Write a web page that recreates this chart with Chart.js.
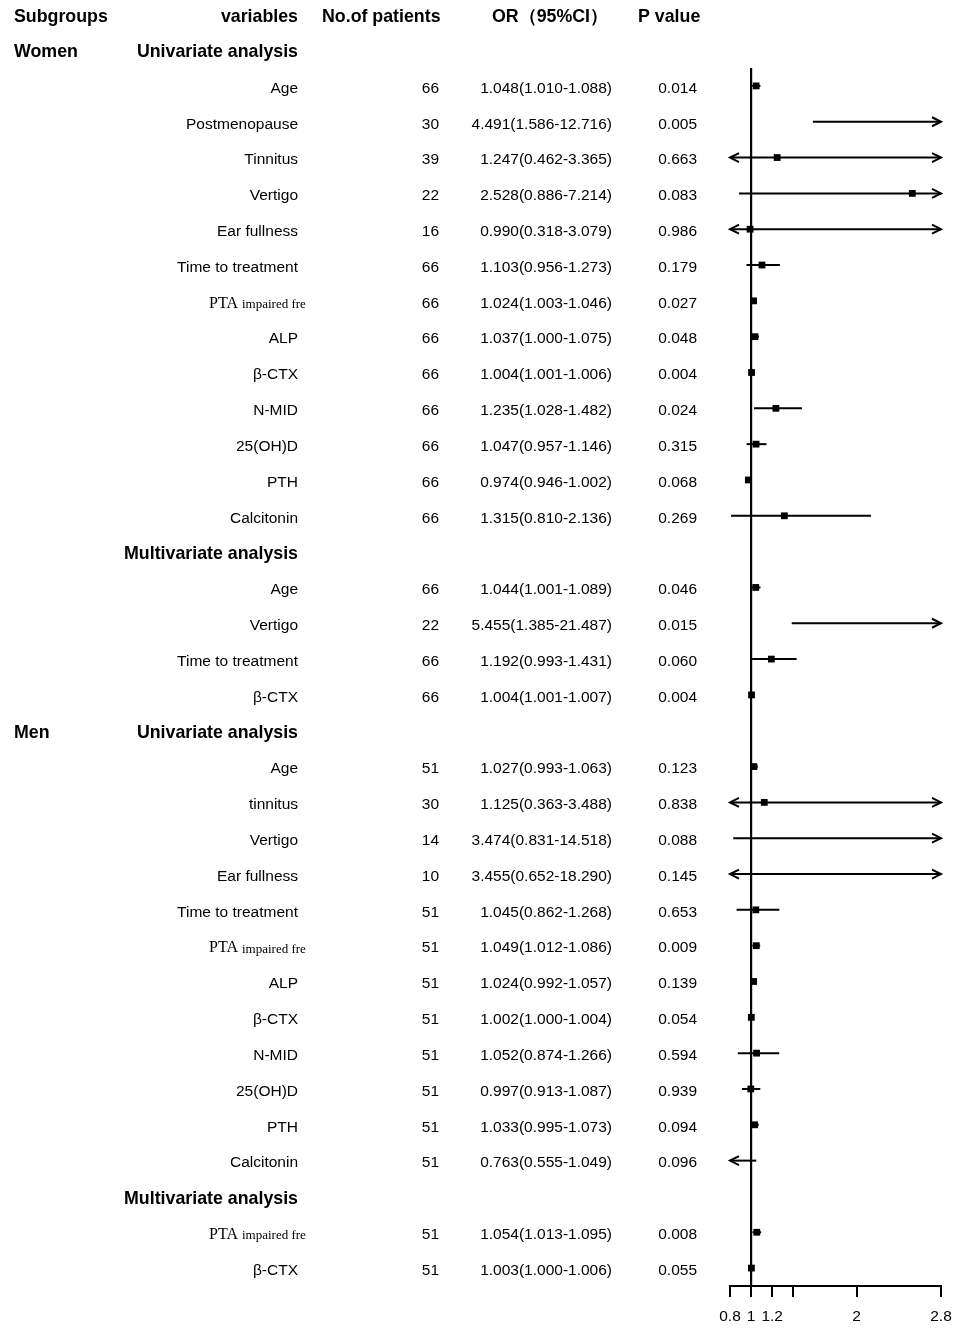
<!DOCTYPE html>
<html>
<head>
<meta charset="utf-8">
<script src="https://cdn.jsdelivr.net/npm/chart.js@4.4.0/dist/chart.umd.min.js"></script>
<style>
  html, body { margin: 0; padding: 0; background: #fff; }
  #wrap { position: relative; width: 968px; height: 1339px; }
</style>
</head>
<body>
<div id="wrap"><canvas id="forest"></canvas></div>
<script>
// column headers of the table
const headers = ['Subgroups', 'variables', 'No.of patients', 'OR（95%CI）', 'P value'];
const subgroups = ['Women', 'Men'];
const analyses = ['Univariate analysis', 'Multivariate analysis'];
// how many variables in each analysis block, per subgroup
const blockSizes = [[13, 4], [12, 2]];

const variables = [
  'Age', 'Postmenopause', 'Tinnitus', 'Vertigo', 'Ear fullness', 'Time to treatment', 'PTA',
  'ALP', 'β-CTX', 'N-MID', '25(OH)D', 'PTH', 'Calcitonin',
  'Age', 'Vertigo', 'Time to treatment', 'β-CTX',
  'Age', 'tinnitus', 'Vertigo', 'Ear fullness', 'Time to treatment', 'PTA',
  'ALP', 'β-CTX', 'N-MID', '25(OH)D', 'PTH', 'Calcitonin',
  'PTA', 'β-CTX'
];
const patients = [
  66, 30, 39, 22, 16, 66, 66, 66, 66, 66, 66, 66, 66,
  66, 22, 66, 66,
  51, 30, 14, 10, 51, 51, 51, 51, 51, 51, 51, 51,
  51, 51
];
const oddsRatios = [
  1.048, 4.491, 1.247, 2.528, 0.990, 1.103, 1.024, 1.037, 1.004, 1.235, 1.047, 0.974, 1.315,
  1.044, 5.455, 1.192, 1.004,
  1.027, 1.125, 3.474, 3.455, 1.045, 1.049, 1.024, 1.002, 1.052, 0.997, 1.033, 0.763,
  1.054, 1.003
];
const ciLower = [
  1.010, 1.586, 0.462, 0.886, 0.318, 0.956, 1.003, 1.000, 1.001, 1.028, 0.957, 0.946, 0.810,
  1.001, 1.385, 0.993, 1.001,
  0.993, 0.363, 0.831, 0.652, 0.862, 1.012, 0.992, 1.000, 0.874, 0.913, 0.995, 0.555,
  1.013, 1.000
];
const ciUpper = [
  1.088, 12.716, 3.365, 7.214, 3.079, 1.273, 1.046, 1.075, 1.006, 1.482, 1.146, 1.002, 2.136,
  1.089, 21.487, 1.431, 1.007,
  1.063, 3.488, 14.518, 18.290, 1.268, 1.086, 1.057, 1.004, 1.266, 1.087, 1.073, 1.049,
  1.095, 1.006
];
const pValues = [
  '0.014', '0.005', '0.663', '0.083', '0.986', '0.179', '0.027', '0.048', '0.004', '0.024', '0.315', '0.068', '0.269',
  '0.046', '0.015', '0.060', '0.004',
  '0.123', '0.838', '0.088', '0.145', '0.653', '0.009', '0.139', '0.054', '0.594', '0.939', '0.094', '0.096',
  '0.008', '0.055'
];

const tickValues = [0.8, 1, 1.2, 1.4, 2, 2.8];
const tickLabels = ['0.8', '1', '1.2', '', '2', '2.8'];
const xMin = 0.8;
const xMax = 2.8;
const refLine = 1;

// work out which table row each item sits on
const dataRows = [];
const titleRows = [];
let row = 1;
subgroups.forEach((sg, i) => {
  blockSizes[i].forEach((size, j) => {
    titleRows.push({ row: row, subgroup: j === 0 ? sg : '', analysis: analyses[j] });
    row++;
    for (let n = 0; n < size; n++) dataRows.push(row++);
  });
});
const yMin = 1.5;
const yMax = row - 0.5;

const fmt = v => v.toFixed(3);
const clampX = v => Math.min(Math.max(v, xMin), xMax);

// one short line per confidence interval
const ciSets = variables.map((v, i) => ({
  type: 'line',
  data: [{ x: clampX(ciLower[i]), y: dataRows[i] }, { x: clampX(ciUpper[i]), y: dataRows[i] }],
  borderColor: '#000',
  borderWidth: 2,
  pointRadius: 0,
  clip: false
}));

const squares = {
  type: 'scatter',
  data: oddsRatios
    .map((v, i) => ({ x: v, y: dataRows[i] }))
    .filter(p => p.x >= xMin && p.x <= xMax),
  pointStyle: 'rect',
  pointRadius: 4.8,
  backgroundColor: '#000',
  borderWidth: 0,
  clip: false
};

const nullLine = {
  type: 'line',
  data: [{ x: refLine, y: yMin }, { x: refLine, y: yMax }],
  borderColor: '#000',
  borderWidth: 2.2,
  pointRadius: 0,
  clip: false
};

// open arrow heads where an interval runs past the axis
const arrowPlugin = {
  id: 'arrows',
  afterDatasetsDraw(chart) {
    const { ctx, scales: { x, y } } = chart;
    ctx.save();
    ctx.strokeStyle = '#000';
    ctx.lineWidth = 2;
    variables.forEach((v, i) => {
      const py = y.getPixelForValue(dataRows[i]);
      if (ciLower[i] < xMin) {
        const px = x.getPixelForValue(xMin);
        ctx.beginPath();
        ctx.moveTo(px + 9, py - 4.5);
        ctx.lineTo(px, py);
        ctx.lineTo(px + 9, py + 4.5);
        ctx.stroke();
      }
      if (ciUpper[i] > xMax) {
        const px = x.getPixelForValue(xMax);
        ctx.beginPath();
        ctx.moveTo(px - 9, py - 4.5);
        ctx.lineTo(px, py);
        ctx.lineTo(px - 9, py + 4.5);
        ctx.stroke();
      }
    });
    ctx.restore();
  }
};

// the text table on the left, aligned to the rows of the y scale
const tablePlugin = {
  id: 'table',
  afterDraw(chart) {
    const { ctx, scales: { y } } = chart;
    const bold = 'bold 17.8px "Liberation Sans", Arial, sans-serif';
    const normal = '15.5px "Liberation Sans", Arial, sans-serif';
    const dy = 2.5;
    ctx.save();
    ctx.fillStyle = '#000';
    ctx.textBaseline = 'middle';

    const hy = y.getPixelForValue(0) + dy;
    ctx.font = bold;
    ctx.textAlign = 'left';
    ctx.fillText(headers[0], 14, hy);
    ctx.textAlign = 'right';
    ctx.fillText(headers[1], 298, hy);
    ctx.textAlign = 'left';
    ctx.fillText(headers[2], 322, hy);
    ctx.textAlign = 'center';
    ctx.fillText(headers[3], 550, hy);
    ctx.textAlign = 'left';
    ctx.fillText(headers[4], 638, hy);

    titleRows.forEach(t => {
      const ty = y.getPixelForValue(t.row) + dy;
      ctx.font = bold;
      ctx.textAlign = 'left';
      if (t.subgroup) ctx.fillText(t.subgroup, 14, ty);
      ctx.textAlign = 'right';
      ctx.fillText(t.analysis, 298, ty);
    });

    variables.forEach((v, i) => {
      const ty = y.getPixelForValue(dataRows[i]) + dy;
      if (v === 'PTA') {
        ctx.textAlign = 'left';
        ctx.font = '16px "Liberation Serif", "Times New Roman", serif';
        ctx.fillText('PTA', 209, ty);
        const w = ctx.measureText('PTA ').width;
        ctx.font = '13px "Liberation Serif", "Times New Roman", serif';
        ctx.fillText('impaired fre', 209 + w, ty + 1);
      } else {
        ctx.textAlign = 'right';
        ctx.font = normal;
        ctx.fillText(v, 298, ty);
      }
      ctx.textAlign = 'right';
      ctx.font = normal;
      ctx.fillText(String(patients[i]), 439, ty);
      ctx.fillText(fmt(oddsRatios[i]) + '(' + fmt(ciLower[i]) + '-' + fmt(ciUpper[i]) + ')', 612, ty);
      ctx.fillText(pValues[i], 697, ty);
    });
    ctx.restore();
  }
};

Chart.defaults.font.family = '"Liberation Sans", Arial, sans-serif';
Chart.defaults.color = '#000';

new Chart(document.getElementById('forest'), {
  data: { datasets: [squares, nullLine, ...ciSets] },
  options: {
    responsive: true,
    maintainAspectRatio: false,
    animation: false,
    layout: { padding: { left: 730, right: 27, top: 68, bottom: 0 } },
    plugins: { legend: { display: false }, tooltip: { enabled: false } },
    scales: {
      x: {
        type: 'linear',
        min: xMin,
        max: xMax,
        afterBuildTicks: scale => { scale.ticks = tickValues.map(v => ({ value: v })); },
        afterFit: scale => { scale.height = 53; },
        ticks: {
          autoSkip: false,
          maxRotation: 0,
          padding: 10,
          font: { size: 15.5 },
          color: '#000',
          callback: (val, idx) => tickLabels[idx]
        },
        grid: { drawOnChartArea: false, drawTicks: true, tickLength: 11, color: '#000', lineWidth: 2 },
        border: { display: true, color: '#000', width: 2 }
      },
      y: {
        type: 'linear',
        display: false,
        reverse: true,
        min: yMin,
        max: yMax
      }
    }
  },
  plugins: [arrowPlugin, tablePlugin]
});
</script>
</body>
</html>
